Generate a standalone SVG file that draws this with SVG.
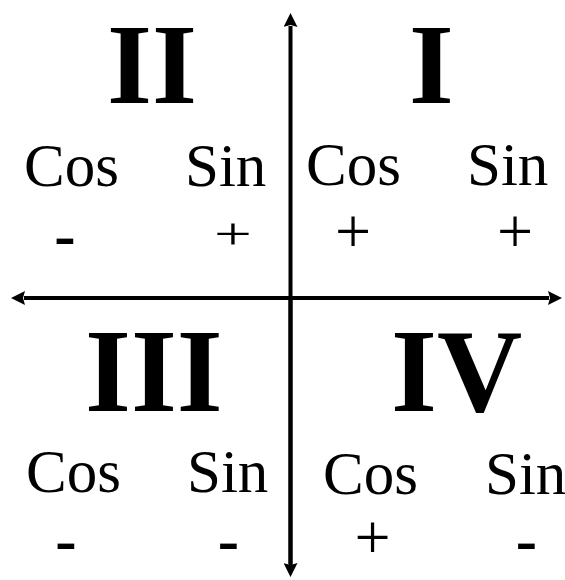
<svg xmlns="http://www.w3.org/2000/svg" width="565" height="580" viewBox="0 0 565 580">
<style>
.num{font-family:"Liberation Serif","Times New Roman",serif;font-weight:bold;font-size:118px;fill:#000}
.numt{font-family:"Liberation Serif","Times New Roman",serif;font-weight:bold;font-size:115px;fill:#000}
.lbl{font-family:"Liberation Serif","Times New Roman",serif;font-size:61px;fill:#000}
.plus{font-family:"Liberation Serif","Times New Roman",serif;font-size:64px;fill:#000;text-anchor:middle}
.minus{font-family:"Liberation Serif","Times New Roman",serif;font-weight:bold;font-size:64px;fill:#000;text-anchor:middle}
.axis{stroke:#000;stroke-width:4;fill:none}
</style>
<defs>
<marker id="ah" viewBox="0 0 14 14" refX="1" refY="7" markerWidth="14" markerHeight="14" markerUnits="userSpaceOnUse" orient="auto">
<path d="M0,0 L14,7 L0,14 L2,7 Z" fill="#000"/>
</marker>
</defs>
<g id="connectors">
<line class="axis" x1="290.5" y1="570" x2="290.5" y2="26" marker-end="url(#ah)"/>
<line class="axis" x1="290.5" y1="298" x2="290.5" y2="564" marker-end="url(#ah)"/>
<line class="axis" x1="290" y1="298" x2="549" y2="298" marker-end="url(#ah)"/>
<line class="axis" x1="290" y1="298" x2="24" y2="298" marker-end="url(#ah)"/>
</g>
<g id="quadrant-II">
<text class="numt" x="107" y="103" textLength="90" lengthAdjust="spacingAndGlyphs">II</text>
<text class="lbl" x="24" y="186">Cos</text>
<text class="lbl" x="185" y="186">Sin</text>
<text class="minus" x="65" y="256">-</text>
<g transform="translate(233,238) scale(1.05,0.7)"><text class="plus" x="0" y="16">+</text></g>
</g>
<g id="quadrant-I">
<text class="numt" x="409" y="103">I</text>
<text class="lbl" x="306" y="185">Cos</text>
<text class="lbl" x="467" y="185">Sin</text>
<text class="plus" x="353" y="252.5">+</text>
<text class="plus" x="515" y="252.5">+</text>
</g>
<g id="quadrant-III">
<text class="num" x="85" y="411">III</text>
<text class="lbl" x="26" y="492">Cos</text>
<text class="lbl" x="187" y="492">Sin</text>
<text class="minus" x="66" y="561">-</text>
<text class="minus" x="228.5" y="561">-</text>
</g>
<g id="quadrant-IV">
<text class="num" x="391" y="411">IV</text>
<text class="lbl" x="323" y="494">Cos</text>
<text class="lbl" x="485" y="494">Sin</text>
<text class="plus" x="372.5" y="559">+</text>
<text class="minus" x="526.5" y="561">-</text>
</g>
</svg>
